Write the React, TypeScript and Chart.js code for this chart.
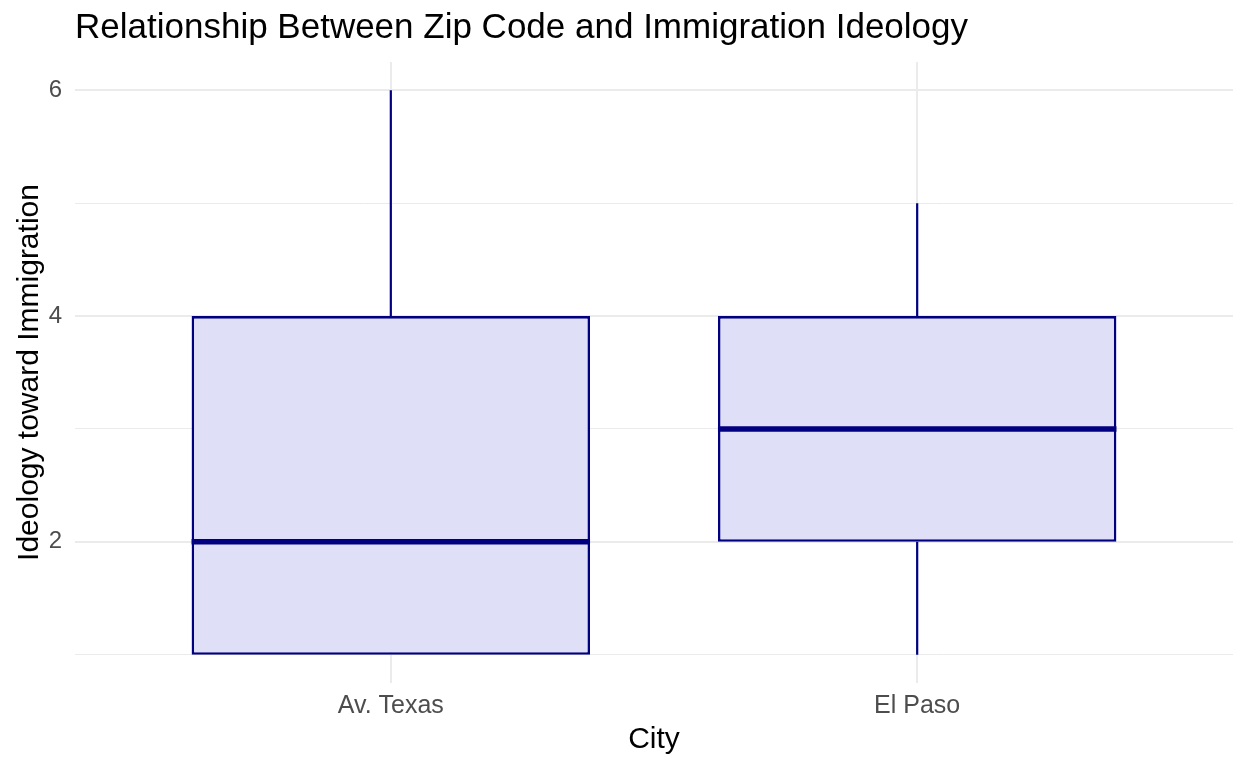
import React, { useEffect, useRef } from 'react';
import { Chart, registerables } from 'chart.js';

Chart.register(...registerables);

const CITIES = ['Av. Texas', 'El Paso'];
const LOWER_WHISKER = [1, 1];
const Q1 = [1, 2];
const MEDIAN = [2, 3];
const Q3 = [4, 4];
const UPPER_WHISKER = [6, 5];
const Y_GRID = [1, 2, 3, 4, 5, 6];
const Y_LABELED = [2, 4, 6];

const TITLE = 'Relationship Between Zip Code and Immigration Ideology';
const X_TITLE = 'City';
const Y_TITLE = 'Ideology toward Immigration';

const FONT = "'Liberation Sans', Arial, Helvetica, sans-serif";
const NAVY = '#000080';
const FILL = '#DFDFF8';
const GRID = '#EBEBEB';

const boxExtras = {
  id: 'boxExtras',
  afterDatasetsDraw(chart: any) {
    const { ctx, scales } = chart;
    const y = scales.y;
    const meta = chart.getDatasetMeta(0);
    ctx.save();
    ctx.strokeStyle = NAVY;
    ctx.lineCap = 'butt';
    meta.data.forEach((bar: any, i: number) => {
      const props = bar.getProps(['x', 'width'], true);
      const x = props.x;
      const w = props.width;
      ctx.lineWidth = 2.2;
      ctx.beginPath();
      if (UPPER_WHISKER[i] > Q3[i]) {
        ctx.moveTo(x, y.getPixelForValue(Q3[i]));
        ctx.lineTo(x, y.getPixelForValue(UPPER_WHISKER[i]));
      }
      if (LOWER_WHISKER[i] < Q1[i]) {
        ctx.moveTo(x, y.getPixelForValue(Q1[i]));
        ctx.lineTo(x, y.getPixelForValue(LOWER_WHISKER[i]));
      }
      ctx.stroke();
      ctx.lineWidth = 5.5;
      ctx.beginPath();
      const my = y.getPixelForValue(MEDIAN[i]);
      ctx.moveTo(x - w / 2, my);
      ctx.lineTo(x + w / 2, my);
      ctx.stroke();
    });
    ctx.restore();
  },
};

export default function App() {
  const ref = useRef<HTMLCanvasElement | null>(null);

  useEffect(() => {
    if (!ref.current) return;
    Chart.defaults.font.family = FONT;
    const chart = new Chart(ref.current, {
      type: 'bar',
      data: {
        datasets: [
          {
            label: 'box',
            data: CITIES.map((_, i) => ({ x: i + 1, y: [Q1[i], Q3[i]] })) as any,
            backgroundColor: FILL,
            borderColor: NAVY,
            borderWidth: 2.6,
            borderSkipped: false,
            categoryPercentage: 1,
            barPercentage: 0.757,
          },
        ],
      },
      options: {
        animation: false,
        responsive: false,
        layout: { padding: { left: 12, right: 15, top: 0, bottom: 10 } },
        plugins: {
          legend: { display: false },
          tooltip: { enabled: false },
          title: {
            display: true,
            text: TITLE,
            align: 'start',
            fullSize: false,
            color: '#000000',
            font: { size: 35, weight: 'normal', family: FONT },
            padding: { top: 7, bottom: 13 },
          },
        },
        scales: {
          x: {
            type: 'linear',
            min: 0.4,
            max: 2.6,
            offset: false,
            afterBuildTicks: (s: any) => {
              s.ticks = CITIES.map((_, i) => ({ value: i + 1 }));
            },
            afterFit: (s: any) => {
              s.height = 75;
            },
            ticks: {
              autoSkip: false,
              maxRotation: 0,
              padding: 8,
              color: '#4D4D4D',
              font: { size: 25, family: FONT },
              callback: (v: any) => CITIES[Math.round(Number(v)) - 1] ?? '',
            },
            grid: { color: GRID, lineWidth: 2, drawTicks: false, offset: false },
            border: { display: false },
            title: {
              display: true,
              text: X_TITLE,
              color: '#000000',
              font: { size: 30, family: FONT },
              padding: { top: 0, bottom: 0 },
            },
          },
          y: {
            type: 'linear',
            min: 0.75,
            max: 6.25,
            afterBuildTicks: (s: any) => {
              s.ticks = Y_GRID.map((v) => ({ value: v }));
            },
            afterFit: (s: any) => {
              s.width = 63;
            },
            ticks: {
              autoSkip: false,
              padding: 13,
              color: '#4D4D4D',
              font: { size: 24, family: FONT },
              callback: (v: any) => (Y_LABELED.includes(Number(v)) ? String(v) : ''),
            },
            grid: {
              color: GRID,
              lineWidth: (c: any) => (c.tick && Y_LABELED.includes(c.tick.value) ? 2 : 1),
              drawTicks: false,
            },
            border: { display: false },
            title: {
              display: true,
              text: Y_TITLE,
              color: '#000000',
              font: { size: 30, family: FONT },
              padding: { top: 0, bottom: 1 },
            },
          },
        },
      },
      plugins: [boxExtras],
    } as any);
    return () => chart.destroy();
  }, []);

  return (
    <div style={{ position: 'fixed', left: 0, top: 0, width: 1248, height: 768, background: '#ffffff' }}>
      <canvas ref={ref} width={1248} height={768} />
    </div>
  );
}
